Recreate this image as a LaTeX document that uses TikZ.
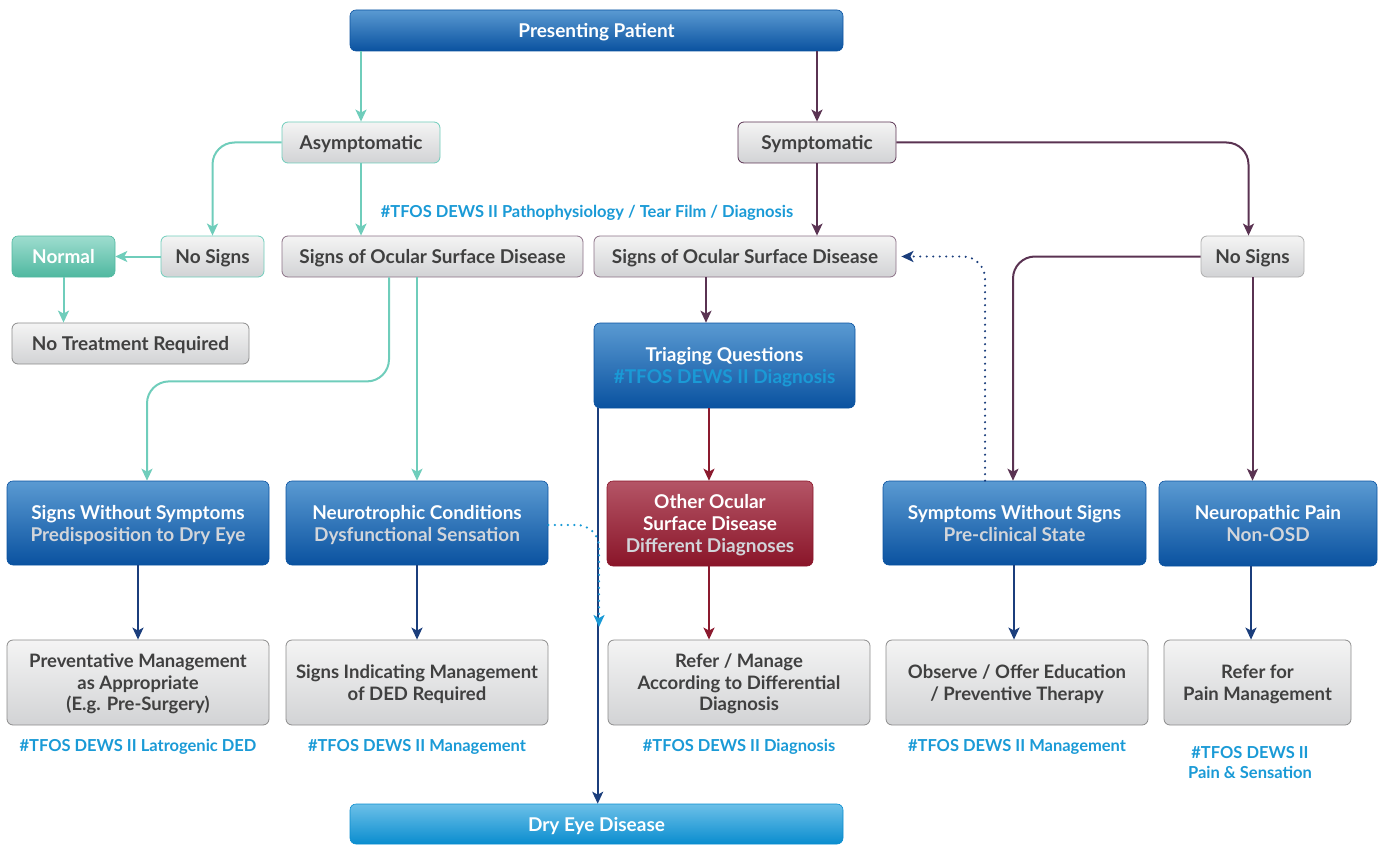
\documentclass[tikz,border=0pt]{standalone}
\usepackage{fontspec}
\setmainfont{Lato}
\usetikzlibrary{arrows.meta,calc}
\definecolor{bluetop}{HTML}{5A9AD2}
\definecolor{bluemid}{HTML}{0F5CA8}
\definecolor{bluebot}{HTML}{0A52A0}
\definecolor{skytop}{HTML}{6CC0E8}
\definecolor{skybot}{HTML}{0A8DCF}
\definecolor{graytop}{HTML}{F4F4F4}
\definecolor{graybot}{HTML}{D2D3D5}
\definecolor{teal}{HTML}{6FCDBB}
\definecolor{tealtop}{HTML}{9EDDCF}
\definecolor{tealbot}{HTML}{4FB8A0}
\definecolor{purp}{HTML}{5A3352}
\definecolor{redtop}{HTML}{B45566}
\definecolor{redmid}{HTML}{921A30}
\definecolor{redbot}{HTML}{8A1529}
\definecolor{darkred}{HTML}{8B1A2E}
\definecolor{navy}{HTML}{1B3E7C}
\definecolor{cyanlbl}{HTML}{1A9AD6}
\definecolor{txtgray}{HTML}{404040}
\definecolor{subgray}{HTML}{D2D5DA}
\definecolor{bordgray}{HTML}{8C8C8C}
\tikzset{
  base/.style={rounded corners=6pt, align=center, inner sep=0pt, text depth=0pt,
    font=\bfseries\fontsize{19}{22}\selectfont},
  bluebox/.style={base, top color=bluetop, middle color=bluemid, bottom color=bluebot, draw=bluebot, line width=0.6pt, text=white},
  skybox/.style={base, top color=skytop, middle color=skybot, bottom color=skybot, draw=skybot, line width=0.6pt, text=white},
  redbox/.style={base, top color=redtop, middle color=redmid, bottom color=redbot, draw=redbot, line width=0.6pt, text=white},
  graybox/.style={base, top color=graytop, bottom color=graybot, draw=bordgray, line width=0.8pt, text=txtgray},
  lowbox/.style={graybox, font=\bfseries\fontsize{18.5}{21.5}\selectfont},
  tealbox/.style={base, top color=tealtop, middle color=tealbot, bottom color=tealbot, draw=tealbot, line width=0.6pt, text=white},
  lbl/.style={font=\bfseries\fontsize{16.5}{20}\selectfont, text=cyanlbl, align=center, inner sep=0pt},
  conn/.style={line width=2pt, -{Stealth[length=12pt,width=11pt,inset=3pt]}},
  tealc/.style={conn, draw=teal, rounded corners=22pt},
  purpc/.style={conn, draw=purp, rounded corners=22pt},
  redc/.style={conn, draw=darkred},
  navyc/.style={conn, draw=navy},
  dotc/.style={line width=2.4pt, line cap=round, dash pattern=on 0pt off 6.5pt, rounded corners=22pt, -{Stealth[length=12pt,width=11pt,inset=3pt]}},
}
\newcommand{\sub}[1]{\textcolor{subgray}{#1}}
\begin{document}
\begin{tikzpicture}[x=1pt,y=-1pt]
\useasboundingbox (0,0) rectangle (1383,845);
% nodes
\node[bluebox, minimum width=493pt, minimum height=41pt] (pres) at (596.5,30.5) {Presenting Patient};
\node[graybox, draw=teal, minimum width=158pt, minimum height=41pt] (asym) at (361,142.5) {Asymptomatic};
\node[graybox, draw=purp, minimum width=158pt, minimum height=41pt] (symp) at (817,142.5) {Symptomatic};
\node[tealbox, minimum width=103pt, minimum height=41pt] (normal) at (63.5,256.5) {Normal};
\node[graybox, draw=teal, minimum width=103pt, minimum height=41pt] (nsl) at (212.5,256.5) {No Signs};
\node[graybox, draw=purp!70, minimum width=301pt, minimum height=41pt] (signsL) at (432.5,256.5) {Signs of Ocular Surface Disease};
\node[graybox, draw=purp!70, minimum width=302pt, minimum height=41pt] (signsR) at (745,256.5) {Signs of Ocular Surface Disease};
\node[graybox, draw=bordgray!70, minimum width=103pt, minimum height=41pt] (nsr) at (1252.5,256.5) {No Signs};
\node[graybox, minimum width=237pt, minimum height=41pt] (notreat) at (130.5,343.5) {No Treatment Required};
\node[bluebox, minimum width=261pt, minimum height=85pt] (triage) at (724.5,365.5) {Triaging Questions\\\textcolor{cyanlbl}{\#TFOS DEWS II Diagnosis}};
\node[bluebox, minimum width=262pt, minimum height=84pt] (sws) at (138,523) {Signs Without Symptoms\\\sub{Predisposition to Dry Eye}};
\node[bluebox, minimum width=262pt, minimum height=84pt] (neuro) at (417,523) {Neurotrophic Conditions\\\sub{Dysfunctional Sensation}};
\node[redbox, minimum width=206pt, minimum height=85pt] (other) at (710,523.5) {Other Ocular\\Surface Disease\\\sub{Different Diagnoses}};
\node[bluebox, minimum width=263pt, minimum height=84pt] (symws) at (1014.5,523) {Symptoms Without Signs\\\sub{Pre-clinical State}};
\node[bluebox, minimum width=218pt, minimum height=85pt] (neurop) at (1268,523.5) {Neuropathic Pain\\\sub{Non-OSD}};
\node[lowbox, minimum width=262pt, minimum height=85pt] (prev) at (138,682.5) {Preventative Management\\as Appropriate\\(E.g. Pre-Surgery)};
\node[lowbox, minimum width=262pt, minimum height=85pt] (sind) at (417,682.5) {Signs Indicating Management\\of DED Required};
\node[lowbox, minimum width=262pt, minimum height=85pt] (refer) at (739,682.5) {Refer / Manage\\According to Differential\\Diagnosis};
\node[lowbox, minimum width=262pt, minimum height=85pt] (observe) at (1017,682.5) {Observe / Offer Education\\/ Preventive Therapy};
\node[lowbox, minimum width=187pt, minimum height=85pt] (referpain) at (1257.5,682.5) {Refer for\\Pain Management};
\node[skybox, minimum width=493pt, minimum height=40pt] (dry) at (596.5,824) {Dry Eye Disease};
% labels
\node[lbl] (l0) at (587,213) {\#TFOS DEWS II Pathophysiology / Tear Film / Diagnosis};
\node[lbl] (l1) at (138,747) {\#TFOS DEWS II Latrogenic DED};
\node[lbl] (l2) at (417,747) {\#TFOS DEWS II Management};
\node[lbl] (l3) at (739,747) {\#TFOS DEWS II Diagnosis};
\node[lbl] (l4) at (1017,747) {\#TFOS DEWS II Management};
\node[lbl] (l5) at (1250,763) {\#TFOS DEWS II\\Pain \& Sensation};
% teal connectors
\draw[tealc] (asym.north |- pres.south) -- (asym.north);
\draw[tealc] (asym.west) -| (nsl.north);
\draw[tealc] (asym.south) -- (asym.south |- signsL.north);
\draw[tealc] (nsl.west) -- (normal.east);
\draw[tealc] (normal.south) -- (normal.south |- notreat.north);
\draw[tealc] ([xshift=-43.5pt]signsL.south) -- ++(0,104) -| ([xshift=9pt]sws.north);
\draw[tealc] (neuro.north |- signsL.south) -- (neuro.north);
% purple connectors
\draw[purpc] (symp.north |- pres.south) -- (symp.north);
\draw[purpc] (symp.east) -| ([xshift=-4pt]nsr.north);
\draw[purpc] (symp.south) -- (symp.south |- signsR.north);
\draw[purpc] (nsr.west) -| ([xshift=-1.5pt]symws.north);
\draw[purpc] (nsr.south) -- (nsr.south |- neurop.north);
\draw[purpc] ([xshift=-39pt]signsR.south) -- ([xshift=-39pt]signsR.south |- triage.north);
% red connectors
\draw[redc] ([xshift=-1pt]other.north |- triage.south) -- ([xshift=-1pt]other.north);
\draw[redc] ([xshift=-1pt]other.south) -- ([xshift=-1pt]other.south |- refer.north);
% navy connectors
\draw[navyc] ([xshift=4pt]triage.south west) -- ([xshift=4pt]triage.south west |- dry.north);
\draw[navyc] (sws.south) -- (prev.north);
\draw[navyc] (neuro.south) -- (sind.north);
\draw[navyc] ([xshift=-0.5pt]symws.south) -- ([xshift=-0.5pt]symws.south |- observe.north);
\draw[navyc] ([xshift=-17pt]neurop.south) -- ([xshift=-17pt]neurop.south |- referpain.north);
% dotted connectors
\draw[dotc, draw=navy] ([xshift=-29.5pt]symws.north) |- ([xshift=5pt]signsR.east);
\coordinate (dend) at (599,627);
\draw[dotc, draw=cyanlbl] ([yshift=-2pt]neuro.east) -| (dend);
\end{tikzpicture}
\end{document}
